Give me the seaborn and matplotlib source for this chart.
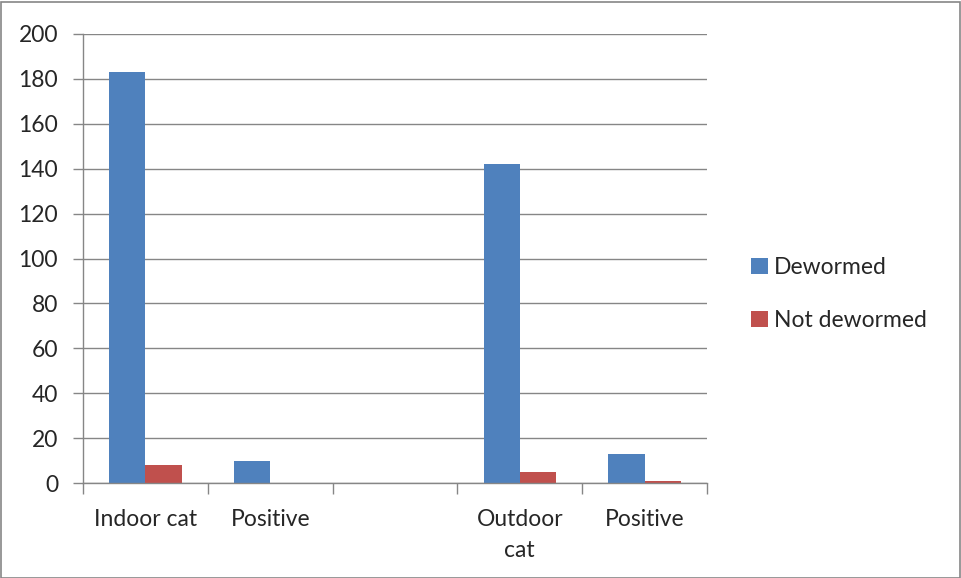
import matplotlib
matplotlib.use("Agg")
import matplotlib.pyplot as plt
from matplotlib.patches import Rectangle
import seaborn as sns
import pandas as pd

# Category slots along the x axis and their printed labels
slots = [0, 1, 2, 3, 4]
slot_labels = ["Indoor cat", "Positive", "", "Outdoor\ncat", "Positive"]

dewormed = [183, 10, 0, 142, 13]
not_dewormed = [8, 0, 0, 5, 1]
series_names = ["Dewormed", "Not dewormed"]
colors = ["#4F81BD", "#C0504D"]

df = pd.DataFrame({
    "slot": slots * 2,
    "count": dewormed + not_dewormed,
    "group": [series_names[0]] * len(slots) + [series_names[1]] * len(slots),
})

sns.set_style("white")
plt.rcParams["font.family"] = ["Lato", "DejaVu Sans"]

fig = plt.figure(figsize=(9.61, 5.78), dpi=100)
ax = fig.add_axes([83 / 961, 1 - 483 / 578, 624 / 961, 449 / 578])

sns.barplot(data=df, x="slot", y="count", hue="group", order=slots,
            hue_order=series_names, palette=colors, width=0.58, gap=0,
            saturation=1, linewidth=0, ax=ax, legend=True)

grid_c = "#868686"
ax.set_ylim(0, 200)
ax.set_xlim(-0.5, len(slots) - 0.5)
ax.set_yticks(range(0, 201, 20))
ax.yaxis.grid(True, color=grid_c, linewidth=1)
ax.set_axisbelow(True)

# Boundary ticks between categories, labels at category centres
ax.set_xticks([i - 0.5 for i in range(len(slots) + 1)])
ax.set_xticklabels([])
ax.set_xticks(slots, minor=True)
ax.set_xticklabels(slot_labels, minor=True, fontsize=16.5, va="top",
                   linespacing=1.55)
ax.tick_params(axis="x", which="major", length=8, color=grid_c, width=1,
               direction="out", bottom=True)
ax.tick_params(axis="x", which="minor", length=0, pad=19)
ax.tick_params(axis="y", length=7, color=grid_c, width=1, direction="out",
               left=True, labelsize=16.5, pad=11)

for side in ["top", "right"]:
    ax.spines[side].set_visible(False)
for side in ["left", "bottom"]:
    ax.spines[side].set_color(grid_c)
    ax.spines[side].set_linewidth(1)

ax.set_xlabel("")
ax.set_ylabel("")

leg = ax.legend(loc="center left", bbox_to_anchor=(730 / 961, 1 - 294 / 578),
                bbox_transform=fig.transFigure, frameon=False, fontsize=16.5,
                handlelength=0.75, handleheight=0.75, handletextpad=0.25,
                labelspacing=1.4)

# Outer chart frame
fig.add_artist(Rectangle((0.5 / 961, 0.5 / 578), 959 / 961, 576 / 578,
                         transform=fig.transFigure, fill=False,
                         edgecolor="#868686", linewidth=1.2))

fig.savefig("out.png", dpi=100, facecolor="white")
